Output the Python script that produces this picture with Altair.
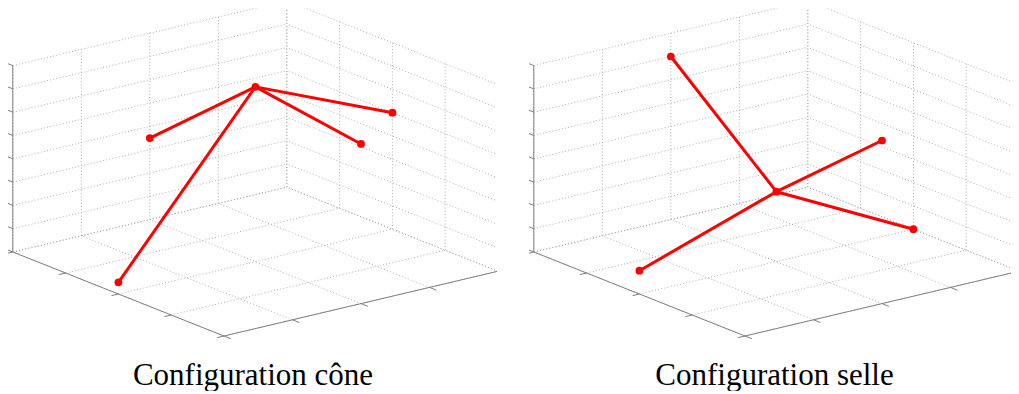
import altair as alt
import pandas as pd

# ---- data (3D values: u along front-right edge, v along front-left edge, w vertical) ----
U_TICKS = [0, 1, 2, 3, 4]
V_TICKS = [0, 1, 2, 3, 4]
W_TICKS = [0, 1, 2, 3, 4, 5, 6, 7, 8]

TITLES = ["Configuration cône", "Configuration selle"]

# first entry is the central node, the others are its four neighbours
CONE_U = [2, 0, 2, 2, 4]
CONE_V = [2, 2, 4, 0, 2]
CONE_W = [7.5, 0.5, 3.5, 6.85, 5.0]

SELLE_U = [2, 0, 2, 2, 4]
SELLE_V = [2, 2, 4, 0, 2]
SELLE_W = [3.0, 1.0, 7.0, 7.0, 0.0]

# ---- projection (view geometry) ----
H_PANEL = 340
ORIGIN = (216.0, 328.0)
EU = (68.5, -16.2)
EV = (-52.8, -21.0)
EW = (0.0, -23.3)
TICK_U = 0.1
TICK_V = 0.13


def proj(u, v, w):
    return (ORIGIN[0] + u * EU[0] + v * EV[0] + w * EW[0],
            ORIGIN[1] + u * EU[1] + v * EV[1] + w * EW[1])


def seg(a, b):
    x, y = proj(*a)
    x2, y2 = proj(*b)
    return {"x": x, "y": y, "x2": x2, "y2": y2}


umax, vmax, wmax = U_TICKS[-1], V_TICKS[-1], W_TICKS[-1]

grid = []
for u in U_TICKS:
    grid.append(seg((u, 0, 0), (u, vmax, 0)))
    grid.append(seg((u, vmax, 0), (u, vmax, wmax)))
for v in V_TICKS:
    grid.append(seg((0, v, 0), (umax, v, 0)))
    grid.append(seg((umax, v, 0), (umax, v, wmax)))
for w in W_TICKS:
    grid.append(seg((0, vmax, w), (umax, vmax, w)))
    grid.append(seg((umax, 0, w), (umax, vmax, w)))
grid_df = pd.DataFrame(grid)

axes = [
    seg((0, vmax, 0), (0, vmax, wmax)),
    seg((0, 0, 0), (0, vmax, 0)),
    seg((0, 0, 0), (umax, 0, 0)),
]
for w in W_TICKS:
    axes.append(seg((0, vmax, w), (0, vmax + TICK_V, w)))
for v in V_TICKS:
    axes.append(seg((0, v, 0), (-TICK_U, v, 0)))
for u in U_TICKS:
    axes.append(seg((u, 0, 0), (u, -TICK_V, 0)))
axes_df = pd.DataFrame(axes)


def panel(us, vs, ws, title, width, title_dx):
    xs = alt.Scale(domain=[0, width], nice=False, zero=False)
    ys = alt.Scale(domain=[0, H_PANEL], nice=False, zero=False, reverse=True)
    links = pd.DataFrame([seg((us[0], vs[0], ws[0]), (us[i], vs[i], ws[i]))
                          for i in range(1, len(us))])
    pts = pd.DataFrame([dict(zip(("x", "y"), proj(us[i], vs[i], ws[i])))
                        for i in range(len(us))])
    enc = dict(x=alt.X("x:Q", scale=xs, axis=None),
               y=alt.Y("y:Q", scale=ys, axis=None),
               x2="x2:Q", y2="y2:Q")
    g = alt.Chart(grid_df).mark_rule(color="#a6a6a6", strokeWidth=0.9,
                                     strokeDash=[1, 2.2], clip=True).encode(**enc)
    a = alt.Chart(axes_df).mark_rule(color="#808080", strokeWidth=1,
                                     clip=True).encode(**enc)
    r = alt.Chart(links).mark_rule(color="#ff0000", strokeWidth=3,
                                   strokeCap="round").encode(**enc)
    p = alt.Chart(pts).mark_circle(color="#ff0000", size=60, opacity=1).encode(
        x=alt.X("x:Q", scale=xs, axis=None),
        y=alt.Y("y:Q", scale=ys, axis=None))
    return alt.layer(g, a, r, p).properties(
        width=width, height=H_PANEL,
        title=alt.TitleParams(text=title, orient="bottom", anchor="middle",
                              frame="group", baseline="alphabetic", offset=37,
                              dx=title_dx,
                              font="Liberation Serif", fontSize=31,
                              fontWeight="normal", color="black"))


chart = alt.hconcat(
    panel(CONE_U, CONE_V, CONE_W, TITLES[0], 489, 0.5),
    panel(SELLE_U, SELLE_V, SELLE_W, TITLES[1], 482, 4.5),
    spacing=32,
    bounds="flush",
).properties(padding=0).configure_view(stroke=None)

chart.save("out.html", embed_options={"renderer": "svg", "actions": False})
